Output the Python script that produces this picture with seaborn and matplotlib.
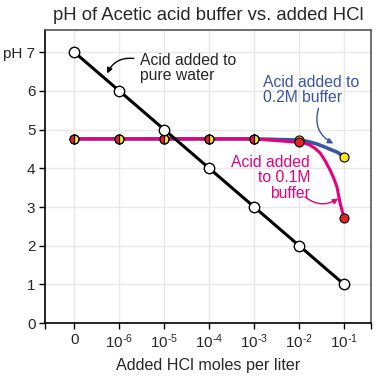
import matplotlib
matplotlib.use("Agg")
import matplotlib.pyplot as plt
import seaborn as sns
import pandas as pd

# values
x_pos = [0, 1, 2, 3, 4, 5, 6]
x_labels = ['0'] + [r'$\mathregular{10^{\text{-}%d}}$' % k for k in [6, 5, 4, 3, 2, 1]]
y_ticks = [0, 1, 2, 3, 4, 5, 6, 7]
y_labels = ['0', '1', '2', '3', '4', '5', '6', 'pH 7']

water_ph = [7, 6, 5, 4, 3, 2, 1]
buf02_ph = [4.76, 4.76, 4.76, 4.76, 4.76, 4.73, 4.30]
buf01_ph = [4.76, 4.76, 4.76, 4.76, 4.76, 4.67, 2.72]

# smooth curves between the points
curve02_x = [0, 1, 2, 3, 4, 5, 5.2, 5.39, 5.55, 5.69, 5.84, 6]
curve02_ph = [4.76, 4.76, 4.76, 4.76, 4.76, 4.73, 4.69, 4.63, 4.56, 4.49, 4.42, 4.30]
curve01_x = [0, 1, 2, 3, 4, 5, 5.12, 5.24, 5.36, 5.47, 5.58, 5.69, 5.77, 5.84, 5.91, 5.96, 6]
curve01_ph = [4.76, 4.76, 4.76, 4.76, 4.76, 4.67, 4.65, 4.60, 4.51, 4.39, 4.19, 3.95, 3.74, 3.52, 3.10, 2.88, 2.72]

pink = '#e5007d'
blue = '#3a55a6'
red = '#e42329'
yellow = '#fbe91b'

sns.set_style('whitegrid')
plt.rcParams['font.family'] = ['Liberation Sans', 'DejaVu Sans']
plt.rcParams['mathtext.fontset'] = 'custom'
plt.rcParams['mathtext.rm'] = 'Liberation Sans'

fig = plt.figure(figsize=(3.76, 3.77), dpi=100)
ax = fig.add_axes([0.12, 0.143, 0.867, 0.777])

c02 = pd.DataFrame({'x': curve02_x, 'ph': curve02_ph})
c01 = pd.DataFrame({'x': curve01_x, 'ph': curve01_ph})
water = pd.DataFrame({'x': x_pos, 'ph': water_ph})

sns.lineplot(data=c02, x='x', y='ph', ax=ax, color=blue, lw=2.6, zorder=3)
sns.lineplot(data=c01, x='x', y='ph', ax=ax, color=pink, lw=2.2, zorder=4)

# buffer points: yellow (0.2M) and red (0.1M), half/half where they overlap
ax.plot(x_pos, buf02_ph, 'o', ms=6.5, mfc=yellow, mec='black', mew=0.8, zorder=5)
ax.plot(x_pos[:5], buf01_ph[:5], 'o', ms=6.5, mfc=red, mec='black', mew=0.8,
        fillstyle='left', zorder=6)
ax.plot(x_pos[5:], buf01_ph[5:], 'o', ms=6.5, mfc=red, mec='black', mew=0.8, zorder=6)

sns.lineplot(data=water, x='x', y='ph', ax=ax, color='black', lw=2.2, zorder=7)
ax.plot(x_pos, water_ph, 'o', ms=7.5, mfc='white', mec='black', mew=1.0, zorder=8)

ax.set_xlim(-0.65, 6.6)
ax.set_ylim(0, 7.57)
ax.set_xticks(x_pos)
ax.set_xticklabels(x_labels, fontsize=11)
ax.set_xticks([-0.65, 6.6], minor=True)
ax.set_yticks(y_ticks)
ax.set_yticklabels(y_labels, fontsize=11)
ax.tick_params(axis='both', which='both', direction='out', length=4, width=1,
               color='black', bottom=True, left=True)
ax.tick_params(axis='x', pad=3)
ax.tick_params(axis='y', pad=3)
ax.grid(True, color='#e8e8e8', lw=1)

for side in ['left', 'bottom']:
    ax.spines[side].set_color('black')
    ax.spines[side].set_linewidth(1.2)
for side in ['top', 'right']:
    ax.spines[side].set_color('#555555')
    ax.spines[side].set_linewidth(1.2)

ax.set_xlabel('Added HCl moles per liter', fontsize=11.6, labelpad=5)
ax.set_ylabel('')
ax.set_title('pH of Acetic acid buffer vs. added HCl', fontsize=13.3, pad=7)

# annotations
ax.text(1.45, 6.60, 'Acid added to\npure water', fontsize=11.3, ha='left', va='center',
        linespacing=1.0, zorder=9)
ax.annotate('', xy=(0.73, 6.45), xytext=(1.32, 6.84),
            arrowprops=dict(arrowstyle='-|>', color='black', lw=1, mutation_scale=8,
                            connectionstyle='arc3,rad=0.35', shrinkA=0, shrinkB=0))

ax.text(4.19, 6.02, 'Acid added to\n0.2M buffer', fontsize=11.3, ha='left', va='center',
        color=blue, linespacing=1.0, zorder=9)
ax.annotate('', xy=(5.76, 4.64), xytext=(5.43, 5.55),
            arrowprops=dict(arrowstyle='-|>', color=blue, lw=1, mutation_scale=8,
                            connectionstyle='arc3,rad=0.4', shrinkA=0, shrinkB=0))

ax.text(5.24, 3.75, 'Acid added\nto 0.1M\nbuffer', fontsize=11.3, ha='right', va='center',
        color=pink, linespacing=1.05, multialignment='right', zorder=9)
ax.annotate('', xy=(5.87, 3.22), xytext=(5.13, 3.26),
            arrowprops=dict(arrowstyle='-|>', color=pink, lw=1, mutation_scale=8,
                            connectionstyle='arc3,rad=0.35', shrinkA=0, shrinkB=0))

fig.savefig('out.png', dpi=100)
